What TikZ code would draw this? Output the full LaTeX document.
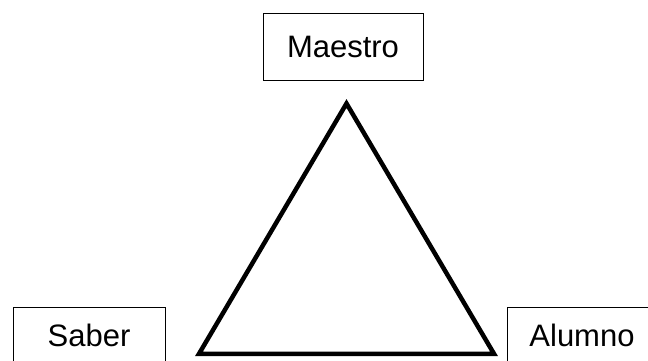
\documentclass[tikz,border=0pt]{standalone}
\usepackage{fontspec}
\setmainfont{Liberation Sans}
\usepackage{tikz}

\begin{document}
\begin{tikzpicture}[x=1pt,y=-1pt]
\useasboundingbox (0,0) rectangle (648,360);
\node[rectangle, draw=black, line width=1pt, minimum width=160pt, minimum height=67pt, font=\fontsize{31}{36}\selectfont] (Maestro) at (343,46.5) {Maestro};
\node[rectangle, draw=black, line width=1pt, minimum width=152pt, minimum height=56pt, font=\fontsize{31}{36}\selectfont] (Saber) at (89,335) {Saber};
\node[rectangle, draw=black, line width=1pt, minimum width=150pt, minimum height=56pt, font=\fontsize{31}{36}\selectfont] (Alumno) at (582,335) {Alumno};
\coordinate (arriba) at (346.5,103.5);
\coordinate (izq) at (199,353.8);
\coordinate (der) at (494,353.8);
\draw[line width=4.5pt, line join=miter] (arriba) -- (der) -- (izq) -- cycle;
\end{tikzpicture}
\end{document}
